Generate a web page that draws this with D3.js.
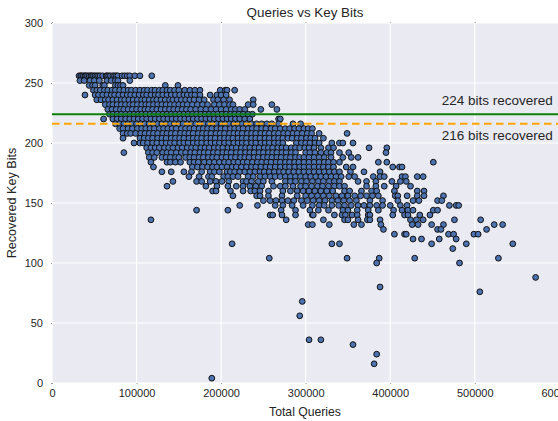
<!DOCTYPE html>
<html><head><meta charset="utf-8">
<script src="https://cdnjs.cloudflare.com/ajax/libs/d3/7.8.5/d3.min.js"></script>
<style>html,body{margin:0;padding:0;background:#fff}svg{display:block}text{font-family:"Liberation Sans",Arial,sans-serif;fill:#262626}</style>
</head><body><svg id="c" width="558" height="421"></svg>
<script>
const titleText = "Queries vs Key Bits", xTitle = "Total Queries", yTitle = "Recovered Key Bits";
const xTicks = [0,100000,200000,300000,400000,500000,600000];
const yTicks = [0,50,100,150,200,250,300];
const thresholds = [224,216];
const thresholdLabels = ["224 bits recovered","216 bits recovered"];
const bits = [256,252,248,244,240,236,232,228,224,220,216,212,208,204,200,196,192,188,184,180,176,172,168,164,160,156,152,148,144,140,136,132,128,124,120,116,112,104,100,88,80,76,68,56,36,32,24,16,4];
// thousands of queries, one list per entry of bits
const queriesK = [
[32,34,35,37,39,40,42,44,46,47,49,51,53,55,57,60,64,65,67,69,72,74,76,78,83,86,89,92,98,104,118],
[33,38,45,50,56,65,70,75,78,92],
[44,48,51,60,62,75,78,81,84,134,149],
[49,53,57,62,66,71,75,80,85,90,94,99,104,109,113,118,122,127,131,136,140,145,150,157,163,169,175,199,205,207,216],
[39,51,55,60,65,70,74,79,84,89,93,98,103,108,112,117,122,126,131,136,141,146,151,156,160,165,169,175,187,195,200,206],
[53,58,63,67,72,77,82,86,91,96,101,106,110,115,120,124,129,134,139,143,148,153,158,163,168,174,180,191,196,203,210,238],
[63,68,72,77,82,87,92,96,101,106,111,115,120,125,130,135,140,145,150,155,160,166,172,178,184,192,198,204,210,214,232,238,260],
[66,71,76,81,85,90,95,100,105,110,114,119,124,129,134,139,144,149,154,159,164,170,176,182,188,194,200,206,212,217,222,228,247,266],
[68,72,77,82,87,92,97,102,106,111,116,121,126,131,136,141,146,151,156,161,166,171,176,181,186,191,196,201,206,211,216,221,226,232,237],
[61,72,77,82,87,92,97,102,107,112,117,122,127,132,137,142,147,152,157,162,167,172,177,182,187,192,197,202,207,212,217,222,228,234,268,270],
[75,80,85,90,95,100,105,110,115,120,125,130,135,140,145,150,155,160,165,170,175,180,185,190,195,200,205,210,215,220,225,230,236,242,248,254,260,268,285,294],
[80,84,90,95,101,106,111,116,121,127,132,137,142,147,153,158,163,168,174,179,184,189,195,200,205,211,216,221,226,232,237,242,248,253,259,264,270,276,281,287,292,298,303,308],
[84,89,93,99,105,110,115,120,125,131,136,141,146,152,157,162,167,173,178,183,188,194,199,204,210,215,220,225,231,236,241,247,252,257,263,268,274,279,285,290,296,302,307,316,349],
[84,104,109,114,119,125,130,135,141,146,151,156,162,167,172,177,183,188,193,199,204,209,214,220,225,230,236,241,246,252,257,263,268,273,279,284,290,295,301,306,311,321],
[97,104,108,113,119,124,130,135,140,145,151,156,161,167,172,177,183,188,193,198,204,209,215,220,225,230,236,241,247,252,257,263,268,273,289,295,300,305,311,316,331,340,344,356],
[112,117,122,127,133,138,143,149,154,160,165,170,176,181,186,192,197,202,208,213,218,224,229,234,240,245,251,256,261,267,272,277,283,288,293,299,304,310,318,327,333,375,396],
[85,114,119,124,131,136,141,147,153,158,164,169,175,180,185,191,196,202,207,212,218,223,229,234,239,245,250,256,261,266,272,277,283,288,300,305,311,318,325,330,340,351,395],
[115,121,130,135,140,146,150,158,163,168,174,179,185,190,195,201,206,212,217,223,228,233,239,244,250,255,260,266,271,277,282,288,293,298,304,310,316,322,330,344,354,362],
[117,136,140,146,152,163,168,173,180,186,192,198,204,209,215,220,226,231,237,243,248,254,259,265,270,276,281,287,292,298,304,310,316,322,327,333,340,386,396,451],
[120,166,172,178,184,190,195,201,207,213,218,224,230,236,241,247,253,258,264,270,276,281,287,293,298,304,310,316,321,327,333,348,356,403,411,414],
[130,141,156,165,177,187,192,198,207,211,216,222,228,234,240,246,251,257,263,269,274,280,286,292,298,304,310,316,322,328,334,340,353,369,388],
[162,174,185,189,203,208,214,220,232,238,246,252,258,264,270,276,282,288,294,300,306,312,318,324,330,336,342,351,358,380,388,393,414,418,432,439],
[143,171,177,187,194,201,209,226,230,236,244,250,260,276,282,288,295,301,308,315,321,328,334,340,362,372,383,402,412,419],
[136,182,195,208,218,226,234,241,248,262,270,276,285,294,300,307,314,320,327,334,340,346,372,383,393,407,424],
[190,194,211,226,235,240,246,256,273,282,290,297,304,311,318,325,332,346,352,366,378,384,405,432,440],
[214,242,246,256,272,290,300,307,314,321,328,336,343,350,358,365,372,379,386,406,409,420,432,440,463],
[250,258,265,272,279,286,295,302,309,316,323,331,338,345,352,360,376,391,409,427,434,456,461],
[222,243,264,273,284,297,308,316,322,331,339,346,354,362,369,376,384,391,400,412,420,470,478,481],
[171,208,271,288,305,315,327,344,350,361,374,386,404,414,421,427,451,456],
[258,261,272,288,308,309,334,343,347,355,361,374,376,403,417,421,435,447],
[117,277,321,346,350,362,373,376,388,424,431,439,476,507],
[303,308,328,357,366,389,426,433,449,463,523,533],
[392,456,460,514],
[405,417,419,469,475,499,504],
[427,437,458,478],
[213,331,340,449,490,545],
[474],
[257,349,387,429,528],
[384,482],
[572],
[388],
[506],
[296],
[293],
[304,318],
[356],
[384],
[381],
[189]
];

const svg = d3.select("#c");
const x = d3.scaleLinear().domain([0,600000]).range([52,559.3]);
const y = d3.scaleLinear().domain([0,300]).range([383,23]);

svg.append("rect").attr("x",x(0)).attr("y",y(300)).attr("width",x(600000)-x(0)).attr("height",y(0)-y(300)).attr("fill","#EAEAF2");
svg.append("g").selectAll("line").data(xTicks).join("line")
  .attr("x1",d=>x(d)).attr("x2",d=>x(d)).attr("y1",y(0)).attr("y2",y(300)).attr("stroke","#fff").attr("stroke-width",1.2);
svg.append("g").selectAll("line").data(yTicks).join("line")
  .attr("x1",x(0)).attr("x2",x(600000)).attr("y1",d=>y(d)).attr("y2",d=>y(d)).attr("stroke","#fff").attr("stroke-width",1.2);

function styleAxis(g){ g.select(".domain").remove(); g.selectAll("line").attr("stroke","#999").attr("stroke-width",1);
  g.selectAll("text").attr("font-size",11).style("font-family",'"Liberation Sans",Arial,sans-serif').attr("fill","#333"); }
svg.append("g").attr("transform",`translate(0,${y(0)})`)
  .call(d3.axisBottom(x).tickValues(xTicks).tickFormat(d3.format("d")).tickSize(1).tickPadding(5)).call(styleAxis);
svg.append("g").attr("transform",`translate(${x(0)},0)`)
  .call(d3.axisLeft(y).tickValues(yTicks).tickSize(1).tickPadding(8)).call(styleAxis);
svg.append("g").attr("transform",`translate(0,${y(300)})`)
  .call(d3.axisTop(x).tickValues(xTicks).tickFormat("").tickSize(1)).call(styleAxis);

const pts = bits.flatMap((b,i)=>queriesK[i].map(q=>({q:q*1000,b})));
svg.append("g").selectAll("circle").data(pts).join("circle")
  .attr("cx",d=>x(d.q)).attr("cy",d=>y(d.b)).attr("r",2.9)
  .attr("fill","#4C72B0").attr("stroke","#111").attr("stroke-width",1);

svg.append("line").attr("x1",x(0)).attr("x2",558).attr("y1",y(thresholds[0])).attr("y2",y(thresholds[0]))
  .attr("stroke","#0a820a").attr("stroke-width",2);
svg.append("line").attr("x1",x(0)).attr("x2",558).attr("y1",y(thresholds[1])).attr("y2",y(thresholds[1]))
  .attr("stroke","#FFA500").attr("stroke-width",2).attr("stroke-dasharray","7.5,4.5");

svg.append("text").attr("x",x(600000)-6.5).attr("y",y(thresholds[0])-9).attr("text-anchor","end").attr("font-size",13.5).attr("fill","#333").text(thresholdLabels[0]);
svg.append("text").attr("x",x(600000)-6.5).attr("y",y(thresholds[1])+16).attr("text-anchor","end").attr("font-size",13.5).attr("fill","#333").text(thresholdLabels[1]);

svg.append("text").attr("x",305).attr("y",17).attr("text-anchor","middle").attr("font-size",13.4).text(titleText);
svg.append("text").attr("x",305).attr("y",416).attr("text-anchor","middle").attr("font-size",12.2).text(xTitle);
svg.append("text").attr("transform","translate(16,203) rotate(-90)").attr("text-anchor","middle").attr("font-size",12.6).text(yTitle);
</script></body></html>
